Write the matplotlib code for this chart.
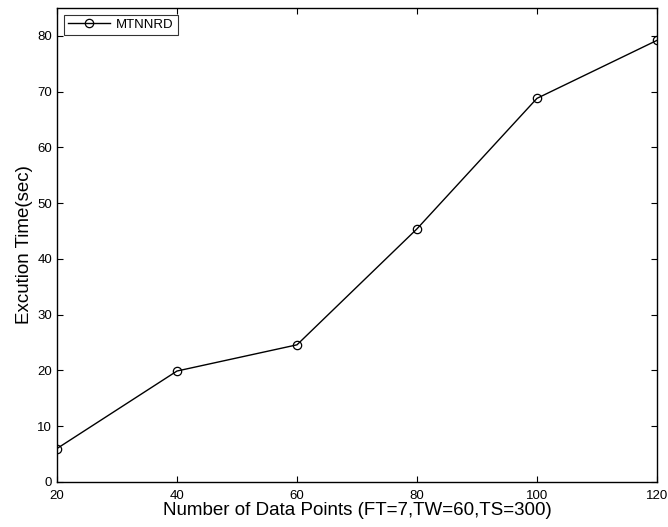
import numpy as np
import matplotlib
matplotlib.use("Agg")
from matplotlib import pyplot as plt

plt.rcParams['font.family'] = ['Liberation Sans', 'DejaVu Sans']

# data points vs execution time
n_points = [20, 40, 60, 80, 100, 120]
exec_time = [6.0, 19.9, 24.6, 45.4, 68.8, 79.2]

fig = plt.figure(figsize=(6.68, 5.27), dpi=100)
ax = fig.add_axes([0.0853, 0.0854, 0.8982, 0.8994])

ax.plot(n_points, exec_time, color='black', lw=1.0, marker='o', ms=6,
        mfc='none', mec='black', mew=0.9, label='MTNNRD')

ax.set_xlim(20, 120)
ax.set_ylim(0, 85)
ax.set_xticks(np.arange(20, 121, 20))
ax.set_yticks(np.arange(0, 81, 10))
ax.tick_params(direction='in', top=True, right=True, length=4.5, width=0.8,
               labelsize=9.5)
ax.tick_params(axis='x', pad=6)
ax.tick_params(axis='y', pad=3.5)
for s in ax.spines.values():
    s.set_linewidth(1.0)

ax.set_xlabel('Number of Data Points (FT=7,TW=60,TS=300)', fontsize=13.5, labelpad=0)
ax.set_ylabel('Excution Time(sec)', fontsize=13.5, labelpad=3)

leg = ax.legend(loc='upper left', fontsize=9.5, frameon=True, fancybox=False,
                edgecolor='black', borderaxespad=0.5, handlelength=3.2,
                borderpad=0.3, handletextpad=0.5)
leg.get_frame().set_linewidth(0.8)

fig.savefig('out.png', dpi=100)
